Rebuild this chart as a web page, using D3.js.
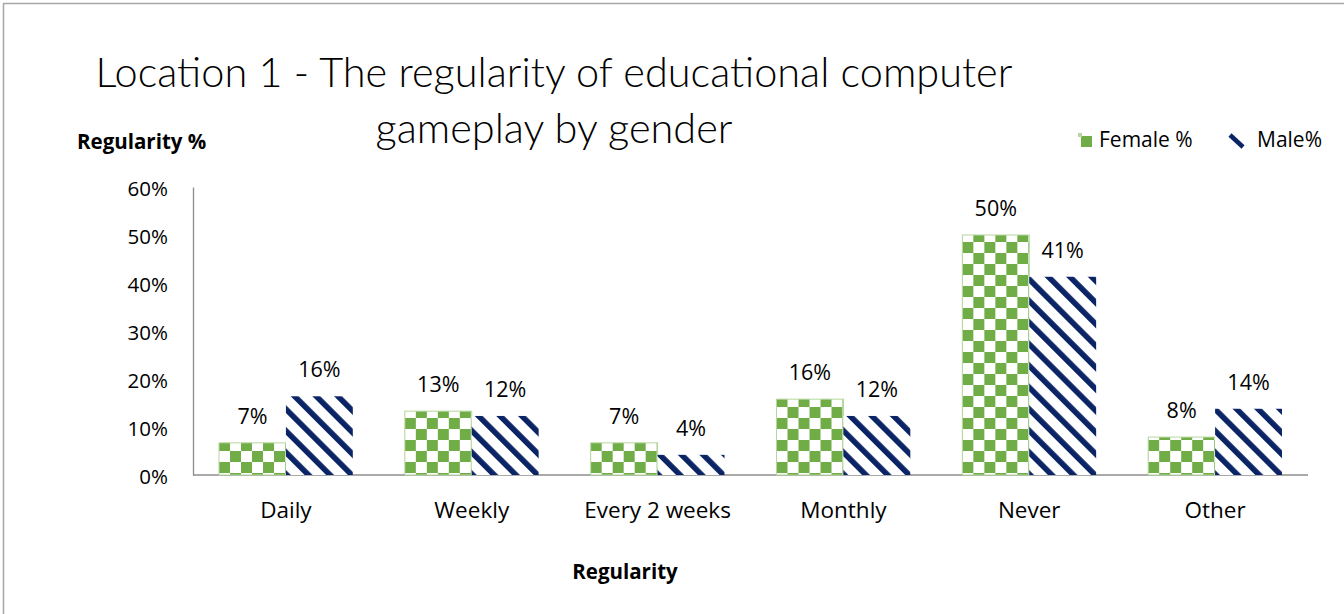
<!DOCTYPE html>
<html>
<head>
<meta charset="utf-8">
<script src="https://cdn.jsdelivr.net/npm/d3@7/dist/d3.min.js"></script>
<style>
  html, body { margin: 0; padding: 0; background: #fff; }
  svg { display: block; }
  text { font-family: "Open Sans", Lato, sans-serif; fill: #000; }
</style>
</head>
<body>
<svg id="chart" width="1344" height="614"></svg>
<script>
// Regularity of educational computer gameplay, Location 1
const categories = ["Daily", "Weekly", "Every 2 weeks", "Monthly", "Never", "Other"];
const femaleValues = [0.067, 0.133, 0.067, 0.158, 0.50, 0.079];
const maleValues = [0.164, 0.123, 0.042, 0.123, 0.413, 0.138];
const seriesNames = ["Female %", "Male%"];
const yTicks = [0, 0.1, 0.2, 0.3, 0.4, 0.5, 0.6];

const svg = d3.select("#chart");
const W = 1344, H = 614;
const plotLeft = 193, plotRight = 1308;

const green = "#70AD47";
const greenLight = "#b5d69e";
const navy = "#0b2466";
const axisGrey = "#8c8c8c";
const tickSize = 20.5;
const valueSize = 21.5;
const wordSize = 22.5;

// chart frame (top and left edges)
svg.append("rect")
  .attr("x", 3.5).attr("y", 3.5)
  .attr("width", W + 10).attr("height", H + 10)
  .attr("fill", "none").attr("stroke", "#a6a6a6").attr("stroke-width", 1.5);

// fill patterns
const defs = svg.append("defs");
const cell = 11;
const checker = defs.append("pattern")
  .attr("id", "checker")
  .attr("patternUnits", "userSpaceOnUse")
  .attr("width", cell * 2).attr("height", cell * 2);
checker.append("rect").attr("width", cell * 2).attr("height", cell * 2).attr("fill", "#fff");
checker.append("rect").attr("x", 0).attr("y", 0).attr("width", cell).attr("height", cell).attr("fill", green);
checker.append("rect").attr("x", cell).attr("y", cell).attr("width", cell).attr("height", cell).attr("fill", green);

const period = 15.3;
const stripes = defs.append("pattern")
  .attr("id", "stripes")
  .attr("patternUnits", "userSpaceOnUse")
  .attr("width", period).attr("height", period)
  .attr("patternTransform", "rotate(-45)");
stripes.append("rect").attr("width", period).attr("height", period).attr("fill", "#fff");
stripes.append("rect").attr("x", 0).attr("y", 0).attr("width", 5.6).attr("height", period).attr("fill", navy);

// scales
const x0 = d3.scaleBand()
  .domain(categories)
  .range([plotLeft, plotRight])
  .paddingInner(0.28)
  .paddingOuter(0.14);
const x1 = d3.scaleBand()
  .domain(seriesNames)
  .range([0, x0.bandwidth()]);
const y = d3.scaleLinear()
  .domain([0, 0.6])
  .range([475, 187]);

const fmt = d3.format(".0%");

// y axis
const yAxis = svg.append("g")
  .attr("transform", `translate(${plotLeft},0)`)
  .call(d3.axisLeft(y).tickValues(yTicks).tickFormat(fmt).tickSize(0).tickPadding(25));
yAxis.select(".domain").attr("stroke", axisGrey).attr("stroke-width", 1.3);
yAxis.selectAll("text")
  .attr("font-size", tickSize)
  .attr("dy", 8)
  .style("font-family", "'Open Sans', sans-serif")
  .attr("fill", "#000");

// x axis
const xAxis = svg.append("g")
  .attr("transform", `translate(0,${y(0)})`)
  .call(d3.axisBottom(x0).tickSize(0).tickPadding(0));
xAxis.select(".domain").attr("stroke", axisGrey).attr("stroke-width", 1.3)
  .attr("d", `M${plotLeft},0H${plotRight}`);
xAxis.selectAll("text")
  .attr("font-size", wordSize)
  .attr("y", 43)
  .attr("dy", 0)
  .style("font-family", "'Open Sans', sans-serif")
  .attr("fill", "#000");

// bars
const rows = categories.map((c, i) => ({
  category: c,
  values: [
    { name: seriesNames[0], value: femaleValues[i], fill: "url(#checker)", stroke: greenLight },
    { name: seriesNames[1], value: maleValues[i], fill: "url(#stripes)", stroke: "none" }
  ]
}));

const groups = svg.append("g").selectAll("g")
  .data(rows)
  .join("g")
  .attr("transform", d => `translate(${x0(d.category)},0)`);

groups.selectAll("rect")
  .data(d => d.values)
  .join("rect")
  .attr("x", d => x1(d.name))
  .attr("y", d => y(d.value))
  .attr("width", x1.bandwidth())
  .attr("height", d => y(0) - y(d.value))
  .attr("fill", d => d.fill)
  .attr("stroke", d => d.stroke)
  .attr("stroke-width", 1);

groups.selectAll("text.val")
  .data(d => d.values)
  .join("text")
  .attr("class", "val")
  .attr("x", d => x1(d.name) + x1.bandwidth() / 2)
  .attr("y", d => y(d.value) - 19)
  .attr("text-anchor", "middle")
  .attr("font-size", valueSize)
  .text(d => fmt(d.value));

// title
const titleLines = ["Location 1 - The regularity of educational computer", "gameplay by gender"];
const title = svg.append("g");
title.selectAll("text")
  .data(titleLines)
  .join("text")
  .attr("x", 554)
  .attr("y", (d, i) => 87 + i * 56)
  .attr("text-anchor", "middle")
  .attr("font-size", 41)
  .attr("font-weight", 300)
  .style("font-family", "Lato, 'Open Sans', sans-serif")
  .text(d => d);
// keep the first line at its set width
const t0 = title.select("text").node();
const w0 = t0.getComputedTextLength();
title.selectAll("text").attr("font-size", 41 * 917 / w0);

// axis titles
svg.append("text")
  .attr("x", 77).attr("y", 149)
  .attr("font-size", 20.5).attr("font-weight", 700)
  .text("Regularity %");
svg.append("text")
  .attr("x", 625).attr("y", 579)
  .attr("text-anchor", "middle")
  .attr("font-size", 20.5).attr("font-weight", 700)
  .text("Regularity");

// legend
const legend = svg.append("g");
legend.append("rect")
  .attr("x", 1081).attr("y", 136).attr("width", 11).attr("height", 11)
  .attr("fill", green);
legend.append("rect")
  .attr("x", 1078).attr("y", 133).attr("width", 4).attr("height", 4)
  .attr("fill", greenLight);
legend.append("text")
  .attr("x", 1099).attr("y", 147)
  .attr("font-size", 21)
  .text(seriesNames[0]);
legend.append("line")
  .attr("x1", 1230).attr("y1", 135).attr("x2", 1243).attr("y2", 147)
  .attr("stroke", navy).attr("stroke-width", 4.5).attr("stroke-linecap", "butt");
legend.append("text")
  .attr("x", 1257).attr("y", 147)
  .attr("font-size", 21)
  .text(seriesNames[1]);
</script>
</body>
</html>
